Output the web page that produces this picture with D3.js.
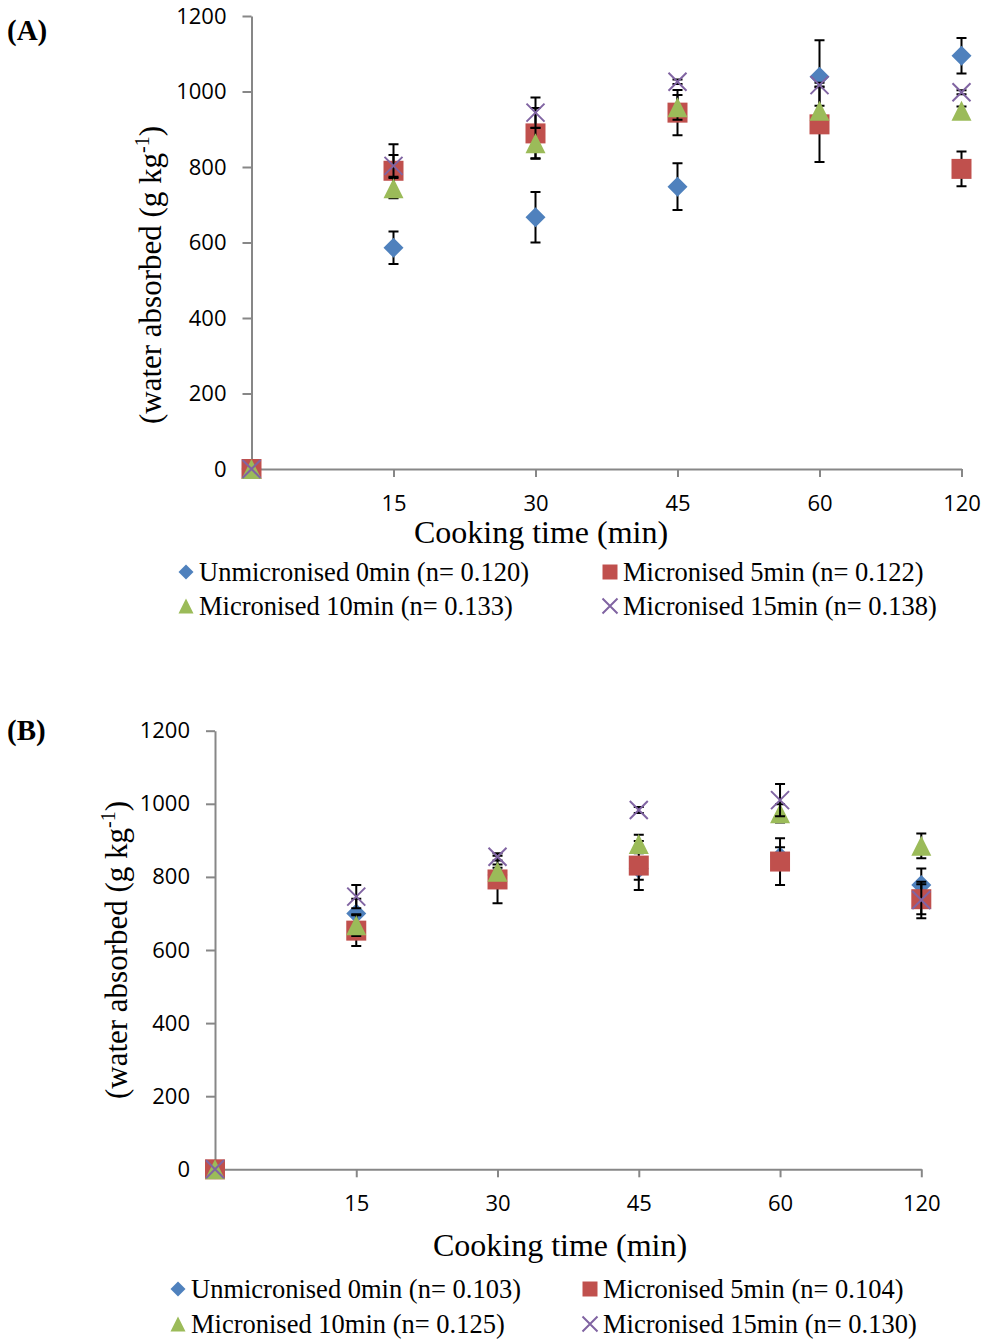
<html>
<head>
<script src="https://d3js.org/d3.v7.min.js"></script>
<style>
    body { margin: 0; background: #fff; }
    .tick text { font-family: "Open Sans", sans-serif; font-size: 22px; fill: #000; }
    .domain, .tick line { stroke: #878787; stroke-width: 2px; }
    .serif { font-family: "Liberation Serif", "Times New Roman", serif; fill: #000; }
</style>
</head>
<body>
<svg id="chart" width="983" height="1339"></svg>
<script>
// categories and ticks
const categories = ["0", "15", "30", "45", "60", "120"];
const yTicks = [0, 200, 400, 600, 800, 1000, 1200];
const seriesNames = ["Unmicronised 0min", "Micronised 5min", "Micronised 10min", "Micronised 15min"];
const seriesColors = ["#4F81BD", "#C0504D", "#9BBB59", "#8064A2"];
const seriesShapes = ["diamond", "square", "triangle", "x"];

// panel A values (g kg-1) and error bars
const nA = ["0.120", "0.122", "0.133", "0.138"];
const unmicA = [0, 586, 667, 748, 1039, 1095];
const unmicErrA = [0, 43, 67, 62, 97, 47];
const mic5A = [0, 790, 889, 944, 913, 795];
const mic5ErrA = [0, 70, 67, 60, 100, 46];
const mic10A = [0, 744, 863, 958, 949, 949];
const mic10ErrA = [0, 27, 40, 33, 13, 11];
const mic15A = [0, 803, 944, 1026, 1017, 998];
const mic15ErrA = [0, 29, 40, 6, 6, 5];

// panel B values
const nB = ["0.103", "0.104", "0.125", "0.130"];
const unmicB = [0, 700, 805, 822, 855, 778];
const unmicErrB = [0, 40, 20, 30, 26, 45];
const mic5B = [0, 653, 793, 831, 842, 739];
const mic5ErrB = [0, 42, 65, 67, 64, 41];
const mic10B = [0, 668, 814, 890, 974, 885];
const mic10ErrB = [0, 30, 20, 25, 25, 34];
const mic15B = [0, 746, 855, 983, 1010, 737];
const mic15ErrB = [0, 32, 10, 8, 44, 50];

const svg = d3.select("#chart");

function markerPath(type, s) {
    if (type === "diamond") return `M0,${-s}L${s},0L0,${s}L${-s},0Z`;
    if (type === "square") return `M${-s},${-s}H${s}V${s}H${-s}Z`;
    if (type === "triangle") return `M0,${-s}L${s},${s}L${-s},${s}Z`;
    return `M${-s},${-s}L${s},${s}M${s},${-s}L${-s},${s}`;
}

function drawMarker(g, type, color, s) {
    const p = g.append("path").attr("d", markerPath(type, s));
    if (type === "x") p.attr("fill", "none").attr("stroke", color).attr("stroke-width", 2);
    else p.attr("fill", color);
}

function drawPanel(p) {
    const g = svg.append("g");
    const x = d3.scalePoint().domain(categories).range([p.x0, p.x1]);
    const y = d3.scaleLinear().domain([0, 1200]).range([p.yBottom, p.yTop]);

    g.append("g")
        .attr("transform", "translate(" + p.x0 + ",0)")
        .call(d3.axisLeft(y).tickValues(yTicks).tickFormat(d3.format("d"))
            .tickSize(9).tickSizeOuter(0).tickPadding(16));

    g.append("g")
        .attr("transform", "translate(0," + p.yBottom + ")")
        .call(d3.axisBottom(x).tickValues(categories.slice(1)).tickSize(8).tickSizeOuter(0).tickPadding(18));

    // error bars then markers, series by series
    p.series.forEach((vals, si) => {
        const errs = p.errors[si];
        const sg = g.append("g");
        vals.forEach((v, i) => {
            if (errs[i] > 0) {
                const cx = x(categories[i]);
                const lo = y(v - errs[i]), hi = y(v + errs[i]);
                sg.append("path")
                    .attr("d", `M${cx},${lo}V${hi}M${cx - 5},${lo}H${cx + 5}M${cx - 5},${hi}H${cx + 5}`)
                    .attr("stroke", "#000").attr("stroke-width", 2).attr("fill", "none");
            }
        });
        vals.forEach((v, i) => {
            const mg = sg.append("g").attr("transform", `translate(${x(categories[i])},${y(v)})`);
            drawMarker(mg, seriesShapes[si], seriesColors[si], seriesShapes[si] === "x" ? 9 : 10);
        });
    });

    // panel label
    svg.append("text").attr("class", "serif")
        .attr("x", 7).attr("y", p.labelY)
        .attr("font-size", 29).attr("font-weight", "bold")
        .text(p.label);

    // y title
    const yt = svg.append("text").attr("class", "serif")
        .attr("transform", `translate(${p.yTitleX},${p.yTitleY}) rotate(-90)`)
        .attr("text-anchor", "middle")
        .attr("font-size", 31);
    yt.append("tspan").text("(water absorbed (g kg");
    yt.append("tspan").attr("font-size", 20).attr("dy", -12).text("-1");
    yt.append("tspan").attr("dy", 12).text(")");

    // x title
    svg.append("text").attr("class", "serif")
        .attr("x", p.xTitleX).attr("y", p.xTitleY)
        .attr("text-anchor", "middle").attr("font-size", 32)
        .text("Cooking time (min)");

    // legend
    seriesNames.forEach((name, si) => {
        const col = si % 2, row = Math.floor(si / 2);
        const lx = p.legX[col], ly = p.legY[row];
        const mg = svg.append("g").attr("transform", `translate(${lx},${ly})`);
        drawMarker(mg, seriesShapes[si], seriesColors[si], 7.5);
        svg.append("text").attr("class", "serif")
            .attr("x", lx + 13).attr("y", ly + 9)
            .attr("font-size", 26.5)
            .text(name + " (n= " + p.n[si] + ")");
    });
}

drawPanel({
    label: "(A)", labelY: 40,
    x0: 251.5, x1: 961.5, yBottom: 469, yTop: 16,
    series: [unmicA, mic5A, mic10A, mic15A],
    errors: [unmicErrA, mic5ErrA, mic10ErrA, mic15ErrA],
    n: nA,
    yTitleX: 161, yTitleY: 275,
    xTitleX: 541, xTitleY: 543,
    legX: [186, 610], legY: [572, 606]
});

drawPanel({
    label: "(B)", labelY: 740,
    x0: 215, x1: 921.3, yBottom: 1169.3, yTop: 730.7,
    series: [unmicB, mic5B, mic10B, mic15B],
    errors: [unmicErrB, mic5ErrB, mic10ErrB, mic15ErrB],
    n: nB,
    yTitleX: 127, yTitleY: 950,
    xTitleX: 560, xTitleY: 1256,
    legX: [178, 590], legY: [1289, 1324]
});
</script>
</body>
</html>
